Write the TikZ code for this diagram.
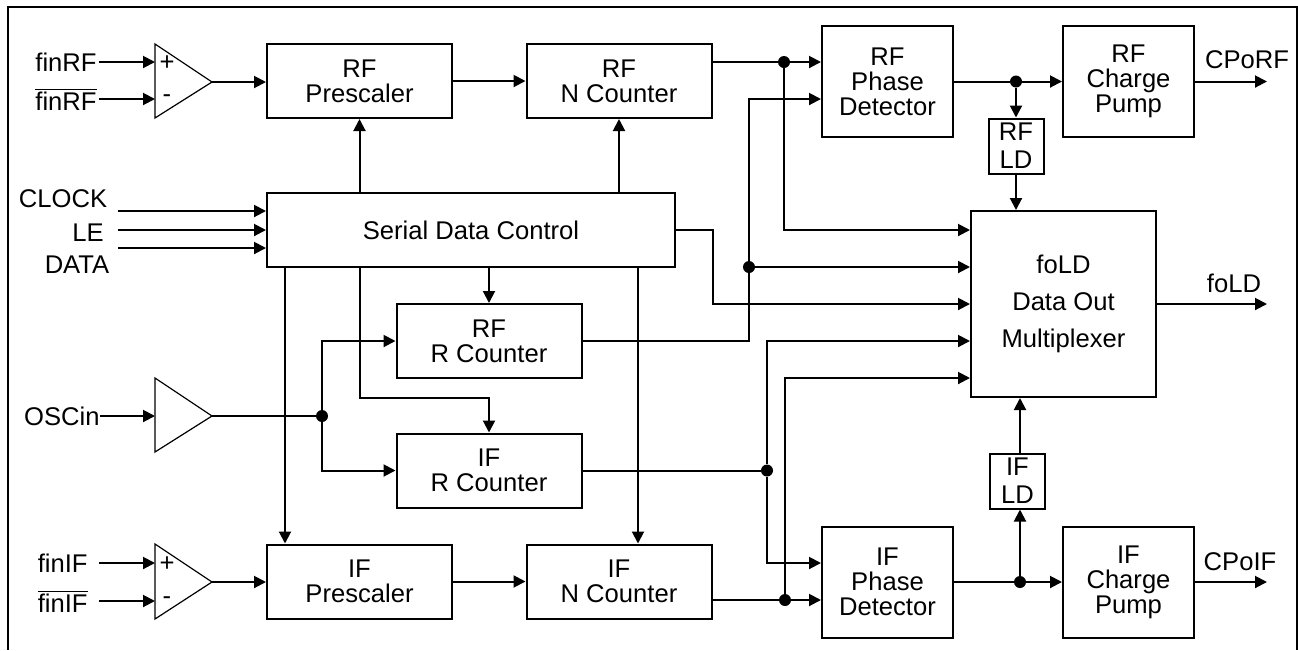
\documentclass[tikz,border=0pt]{standalone}
\usepackage{fontspec}
\setmainfont{Liberation Sans}
\usetikzlibrary{calc, positioning, arrows.meta}

\begin{document}
\begin{tikzpicture}
		[x=0.5pt, y=-0.5pt,
		 font=\fontsize{12.8}{12.5}\selectfont,
		 blk/.style={draw, line width=1pt, align=center, inner sep=0pt},
		 wide/.style={blk, minimum width=92.5pt, minimum height=37pt},
		 pd/.style={blk, minimum width=65.5pt, minimum height=55.5pt},
		 ld/.style={blk, minimum width=27.5pt, minimum height=27.5pt, font=\fontsize{12.8}{14}\selectfont},
		 wire/.style={line width=1pt},
		 arr/.style={wire, -{Triangle[length=6pt, width=6pt]}},
		 amp/.style={line width=0.6pt},
		 dot/.style={circle, fill, inner sep=0pt, minimum size=6pt},
		 lbl/.style={inner sep=0pt}]
		\useasboundingbox (0,0) rectangle (1298,650);
		\draw[line width=0.6pt] (8,650) |- (1297,7) -- (1297,650);

		% amplifiers %
		\draw[amp] (155,44) -- (212,82) -- (155,118) -- cycle;
		\draw[amp] (155,378) -- (212,416) -- (155,452) -- cycle;
		\draw[amp] (155,544) -- (212,582) -- (155,619) -- cycle;
		\coordinate (rfin1) at (155,62);
		\coordinate (rfin2) at (155,99);
		\coordinate (rfampout) at (212,82);
		\coordinate (oscin) at (155,416);
		\coordinate (oscout) at (212,416);
		\coordinate (ifin1) at (155,563);
		\coordinate (ifin2) at (155,601);
		\coordinate (ifampout) at (212,582);
		\node[lbl] (rfplus) at (167,63) {+};
		\node[lbl] (rfminus) at (167,99) {-};
		\node[lbl] (ifplus) at (167,564) {+};
		\node[lbl] (ifminus) at (167,601) {-};

		% nodes %
		\node[wide] (rfpre) at (359.5,81) {RF\\Prescaler};
		\node[wide] (rfn) at (619,81) {RF\\N Counter};
		\node[pd] (rfpd) at (887.5,81.5) {RF\\Phase\\Detector};
		\node[pd] (rfcp) at (1128.5,81.5) {RF\\Charge\\Pump};
		\node[ld] (rfld) at (1016,146) {RF\\LD};
		\node[blk, minimum width=204pt, minimum height=37pt] (sdc) at (471,230) {Serial Data Control};
		\node[blk, minimum width=92.5pt, minimum height=93pt] (mux) at (1063.5,304) {foLD\\[6pt]Data Out\\[6pt]Multiplexer};
		\node[wide] (rfr) at (489,341) {RF\\R Counter};
		\node[wide] (ifr) at (489,470.5) {IF\\R Counter};
		\node[wide] (ifpre) at (359.5,581.5) {IF\\Prescaler};
		\node[wide] (ifn) at (619,581.5) {IF\\N Counter};
		\node[pd] (ifpd) at (887.5,582) {IF\\Phase\\Detector};
		\node[pd] (ifcp) at (1128.5,582) {IF\\Charge\\Pump};
		\node[ld] (ifld) at (1017.5,481) {IF\\LD};

		% junctions %
		\node[dot] (rfnj) at (784,62) {};
		\node[dot] (rfrj) at (749,267) {};
		\node[dot] (oscj) at (322,416) {};
		\node[dot] (ifrj) at (767,470.5) {};
		\node[dot] (ifnj) at (785,600) {};
		\node[dot] (rfj) at (1016,81.5) {};
		\node[dot] (ifj) at (1020,582) {};

		% inputs and outputs %
		\node[lbl, anchor=east] (finrf) at (97,62) {finRF};
		\node[lbl, anchor=east] (finrfb) at (97,99) {$\overline{\mbox{finRF}}$};
		\node[lbl] (clock) at (63,199) {CLOCK};
		\node[lbl] (le) at (88,233) {LE};
		\node[lbl] (data) at (77,265) {DATA};
		\coordinate (clkin) at (118,211);
		\coordinate (lein) at (118,230);
		\coordinate (datain) at (118,248);
		\node[lbl, anchor=east] (osc) at (100,416) {OSCin};
		\node[lbl, anchor=east] (finif) at (88,563) {finIF};
		\node[lbl, anchor=east] (finifb) at (88,601) {$\overline{\mbox{finIF}}$};
		\node[lbl] (cporflbl) at (1247,60) {CPoRF};
		\node[lbl] (foldlbl) at (1234,283) {foLD};
		\node[lbl] (cpoiflbl) at (1240,562) {CPoIF};
		\coordinate (cporf) at (1267,81.5);
		\coordinate (foldout) at (1267,304);
		\coordinate (cpoif) at (1267,582);
		\coordinate (ifnin) at ([xshift=9.5pt]ifn.north);

		% edges %
		\draw[arr] ([xshift=1pt]finrf.east) -- (rfin1);
		\draw[arr] (finrfb.east |- rfin2) ++(1pt,0) -- (rfin2);
		\draw[arr] (osc.east) -- (oscin);
		\draw[arr] ([xshift=5.5pt]finif.east) -- (ifin1);
		\draw[arr] (finifb.east |- ifin2) ++(5.5pt,0) -- (ifin2);
		\draw[arr] (clkin) -- (clkin -| sdc.west);
		\draw[arr] (lein) -- (lein -| sdc.west);
		\draw[arr] (datain) -- (datain -| sdc.west);

		\draw[arr] (rfampout) -- (rfampout -| rfpre.west);
		\draw[arr] (rfpre) -- (rfn);
		\draw[arr] (sdc.north -| rfpre) -- (rfpre.south);
		\draw[arr] (sdc.north -| rfn) -- (rfn.south);
		\draw[wire] ([yshift=9.5pt]rfn.east) -- (rfnj);
		\draw[arr] (rfnj) -- (rfnj -| rfpd.west);
		\draw[arr] (rfnj) |- ([yshift=37pt]mux.west);
		\draw[wire] (rfr.east) -| (rfrj);
		\draw[arr] (rfrj) |- ([yshift=-8.75pt]rfpd.west);
		\draw[arr] (rfrj) -- (rfrj -| mux.west);
		\draw[arr] (sdc.east) -- ++(37,0) |- (mux.west);

		\draw[arr] (sdc.south -| rfr.north) -- (rfr.north);
		\draw[arr] (sdc.south -| rfpre.south) -- ++(0,130) -| (ifr.north);
		\draw[arr] ([xshift=9.5pt]sdc.south west) -- ([xshift=9.5pt]ifpre.north west);
		\draw[arr] (sdc.south -| ifnin) -- (ifnin);

		\draw[wire] (oscout) -- (oscj);
		\draw[arr] (oscj) |- (rfr.west);
		\draw[arr] (oscj) |- (ifr.west);
		\draw[wire] (ifr.east) -- (ifrj);
		\draw[arr] (ifrj) |- ([yshift=-18.5pt]mux.west);
		\draw[arr] (ifrj) |- ([yshift=9.5pt]ifpd.west);

		\draw[arr] (ifampout) -- (ifampout -| ifpre.west);
		\draw[arr] (ifpre) -- (ifn);
		\draw[wire] ([yshift=-9.25pt]ifn.east) -- (ifnj);
		\draw[arr] (ifnj) -- (ifnj -| ifpd.west);
		\draw[arr] (ifnj) |- ([yshift=-37pt]mux.west);

		\draw[wire] (rfpd.east) -- (rfj);
		\draw[arr] (rfj) -- (rfcp.west);
		\draw[arr] (rfj) -- (rfld.north);
		\draw[arr] (rfld.south) -- (rfld.south |- mux.north);
		\draw[wire] (ifpd.east) -- (ifj);
		\draw[arr] (ifj) -- (ifcp.west);
		\draw[arr] (ifj) -- (ifj |- ifld.south);
		\draw[arr] (ifj |- ifld.north) -- (ifj |- mux.south);

		\draw[arr] (rfcp.east) -- (cporf);
		\draw[arr] (mux.east) -- (foldout);
		\draw[arr] (ifcp.east) -- (cpoif);
		\end{tikzpicture}
\end{document}
